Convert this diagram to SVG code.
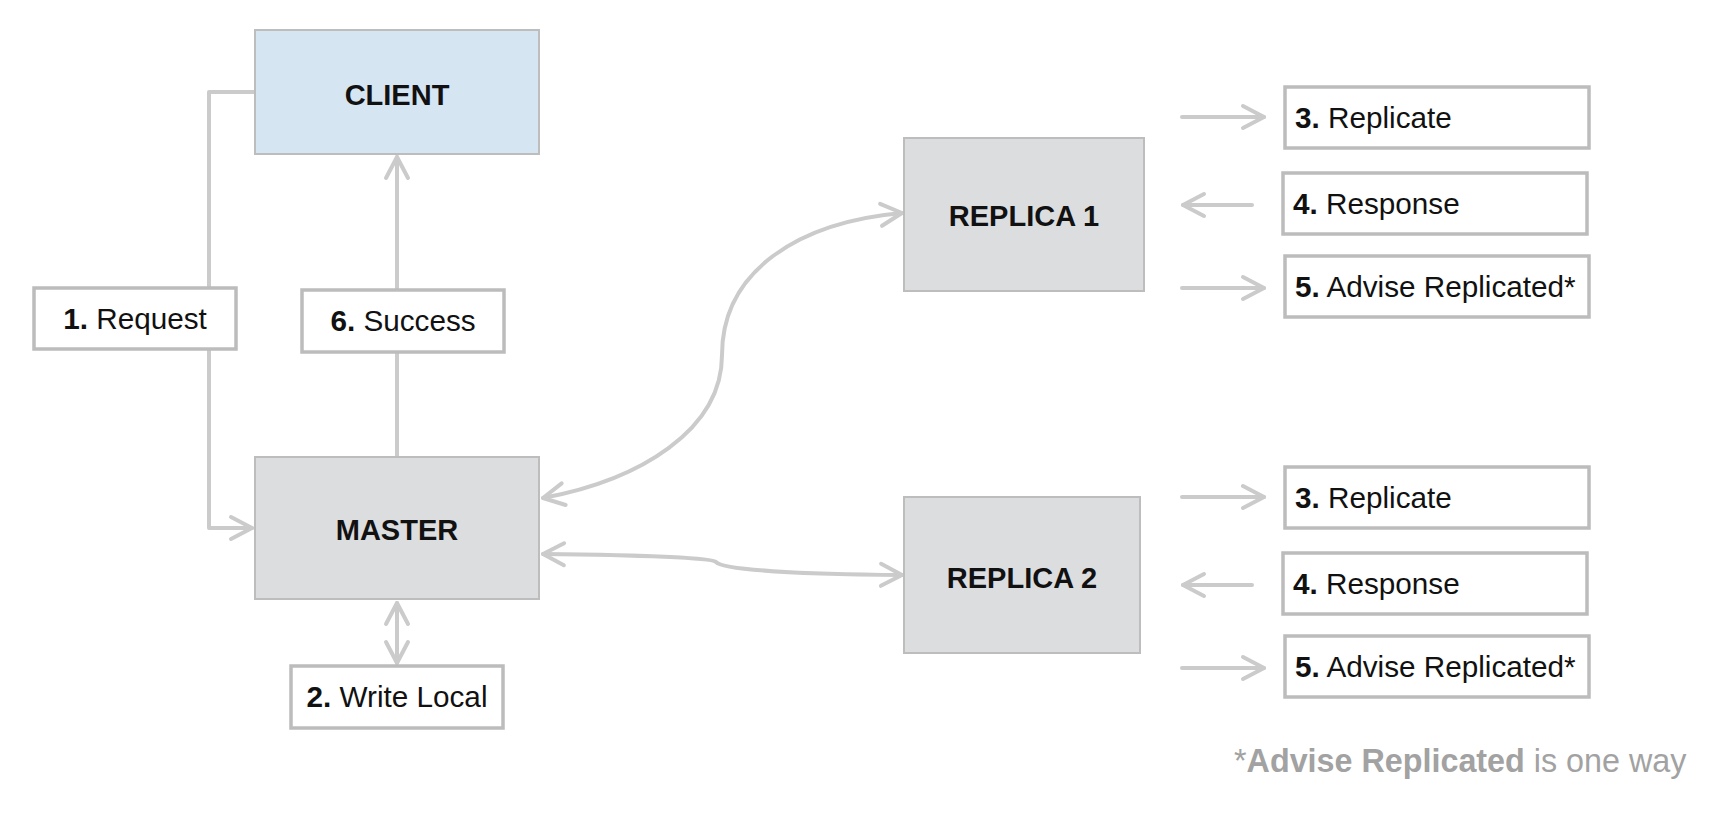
<svg xmlns="http://www.w3.org/2000/svg" width="1724" height="814" viewBox="0 0 1724 814">
<style>
text{font-family:"Liberation Sans",Arial,sans-serif;font-size:29.7px;fill:#111}
.title{font-weight:bold;text-anchor:middle;font-size:29px}
.mid{text-anchor:middle}
.b{font-weight:bold}
.node{fill:#dcdddf;stroke:#bdbdbd;stroke-width:2}
.client{fill:#d5e5f1;stroke:#bdbdbd;stroke-width:2}
.lbl{fill:#fff;stroke:#bcbcbc;stroke-width:3.5}
.conn{fill:none;stroke:#cbcbcb;stroke-width:4;stroke-linecap:round;stroke-linejoin:round}
.note{fill:#a2a2a2;font-size:32.3px}
</style>
<defs>
<marker id="arr" viewBox="-28 -15 32 30" refX="0" refY="0" markerWidth="32" markerHeight="30" markerUnits="userSpaceOnUse" orient="auto-start-reverse">
<path d="M-21,-11 L0,0 L-21,11" fill="none" stroke="#cbcbcb" stroke-width="4" stroke-linecap="round" stroke-linejoin="round"/>
</marker>
</defs>
<g id="connectors">
<path class="conn" d="M255,92 L209,92 L209,528 L252,528" marker-end="url(#arr)"/>
<path class="conn" d="M397,457 L397,157" marker-end="url(#arr)"/>
<path class="conn" d="M397,603 L397,663" marker-start="url(#arr)" marker-end="url(#arr)"/>
<path class="conn" d="M543,498 C640,480 722,430 722,355 C722,270 800,222 902,213" marker-start="url(#arr)" marker-end="url(#arr)"/>
<path class="conn" d="M543,554 C640,555 712,558 716,562 C722,570 800,574 902,575" marker-start="url(#arr)" marker-end="url(#arr)"/>
<path class="conn" d="M1182,117 L1264,117" marker-end="url(#arr)"/>
<path class="conn" d="M1252,205 L1183,205" marker-end="url(#arr)"/>
<path class="conn" d="M1182,288 L1264,288" marker-end="url(#arr)"/>
<path class="conn" d="M1182,497 L1264,497" marker-end="url(#arr)"/>
<path class="conn" d="M1252,585 L1183,585" marker-end="url(#arr)"/>
<path class="conn" d="M1182,668 L1264,668" marker-end="url(#arr)"/>
</g>
<g id="client"><rect class="client" x="255" y="30" width="284" height="124"/><text class="title" x="397" y="105">CLIENT</text></g>
<g id="master"><rect class="node" x="255" y="457" width="284" height="142"/><text class="title" x="397" y="540">MASTER</text></g>
<g id="replica1"><rect class="node" x="904" y="138" width="240" height="153"/><text class="title" x="1024" y="226">REPLICA 1</text></g>
<g id="replica2"><rect class="node" x="904" y="497" width="236" height="156"/><text class="title" x="1022" y="588">REPLICA 2</text></g>
<g id="label-request"><rect class="lbl" x="34" y="288" width="202" height="61"/><text class="mid" x="135" y="329"><tspan class="b">1.</tspan> Request</text></g>
<g id="label-success"><rect class="lbl" x="302" y="290" width="202" height="62"/><text class="mid" x="403" y="331"><tspan class="b">6.</tspan> Success</text></g>
<g id="label-write"><rect class="lbl" x="291" y="666" width="212" height="62"/><text class="mid" x="397" y="707"><tspan class="b">2.</tspan> Write Local</text></g>
<g id="r1-replicate"><rect class="lbl" x="1285" y="87" width="304" height="61"/><text x="1295" y="128"><tspan class="b">3.</tspan> Replicate</text></g>
<g id="r1-response"><rect class="lbl" x="1283" y="173" width="304" height="61"/><text x="1293" y="214"><tspan class="b">4.</tspan> Response</text></g>
<g id="r1-advise"><rect class="lbl" x="1285" y="256" width="304" height="61"/><text x="1295" y="297"><tspan class="b">5.</tspan> Advise Replicated*</text></g>
<g id="r2-replicate"><rect class="lbl" x="1285" y="467" width="304" height="61"/><text x="1295" y="508"><tspan class="b">3.</tspan> Replicate</text></g>
<g id="r2-response"><rect class="lbl" x="1283" y="553" width="304" height="61"/><text x="1293" y="594"><tspan class="b">4.</tspan> Response</text></g>
<g id="r2-advise"><rect class="lbl" x="1285" y="636" width="304" height="61"/><text x="1295" y="677"><tspan class="b">5.</tspan> Advise Replicated*</text></g>
<g id="footnote"><text class="note" x="1234" y="772">*<tspan class="b">Advise Replicated</tspan> is one way</text></g>
</svg>
